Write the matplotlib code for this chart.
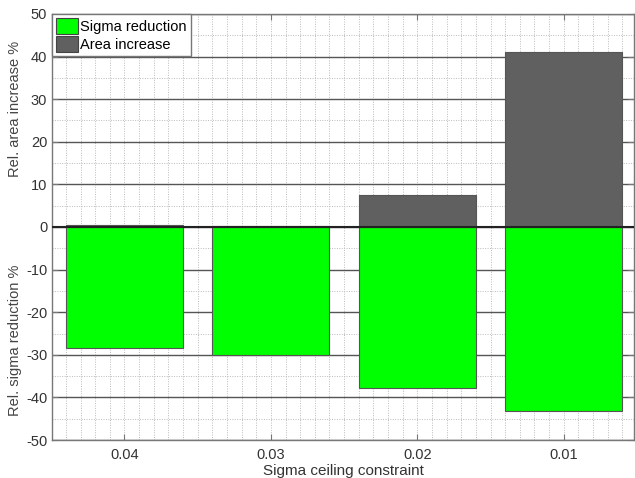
import matplotlib
matplotlib.use("Agg")
import matplotlib.pyplot as plt
from matplotlib.ticker import MultipleLocator
import numpy as np

categories = ["0.04", "0.03", "0.02", "0.01"]
sigma_reduction = [-28.3, -30.0, -37.7, -43.1]
area_increase = [0.5, 0.2, 7.6, 41.1]

plt.rcParams['font.family'] = ['Liberation Sans', 'DejaVu Sans']
plt.rcParams['axes.unicode_minus'] = False

fig = plt.figure(figsize=(6.35, 4.78), dpi=100)
ax = fig.add_axes([52 / 635, 38 / 478, (634 - 52) / 635, (440 - 14) / 478])

x = np.arange(1, len(categories) + 1)
ax.bar(x, sigma_reduction, width=0.8, color="#00ff00", edgecolor="#555555",
       linewidth=0.8, label="Sigma reduction", zorder=3)
ax.bar(x, area_increase, width=0.8, color="#606060", edgecolor="#555555",
       linewidth=0.8, label="Area increase", zorder=3)
ax.axhline(0, color="#222222", linewidth=1.5, zorder=4)

ax.set_xlim(0.505, 4.48)
ax.set_ylim(-50, 50)
ax.set_xticks(x)
ax.set_xticklabels(categories)
ax.yaxis.set_major_locator(MultipleLocator(10))
ax.yaxis.set_minor_locator(MultipleLocator(5))
ax.xaxis.set_minor_locator(MultipleLocator(0.1))

ax.grid(True, which="major", axis="y", color="#555555", linewidth=1.0, zorder=1)
ax.grid(True, which="minor", axis="y", color="#bbbbbb", linewidth=0.7,
        linestyle=(0, (1, 1.5)), zorder=1)
ax.grid(True, which="both", axis="x", color="#bbbbbb", linewidth=0.7,
        linestyle=(0, (1, 1.5)), zorder=1)
ax.set_axisbelow(True)

for s in ax.spines.values():
    s.set_color("#777777")
    s.set_linewidth(1.0)

ax.tick_params(axis="both", which="major", direction="in", length=4,
               colors="#777777", labelcolor="#333333", labelsize=10.5,
               top=True, right=True)
ax.tick_params(axis="both", which="minor", length=0)
ax.tick_params(axis="x", pad=6)

ax.set_xlabel("Sigma ceiling constraint", fontsize=11, color="#333333", labelpad=1)

fig.text(15 / 635, 1 - 109 / 478, "Rel. area increase %", rotation=90,
         ha="center", va="center", fontsize=10.5, color="#444444")
fig.text(15 / 635, 1 - 340 / 478, "Rel. sigma reduction %", rotation=90,
         ha="center", va="center", fontsize=10.5, color="#444444")

leg = ax.legend(loc="upper left", bbox_to_anchor=(0, 1), borderaxespad=0.0,
                fancybox=False, framealpha=1, edgecolor="#777777",
                fontsize=10.5, handlelength=1.5, handleheight=1.3,
                handletextpad=0.15, borderpad=0.3, labelspacing=0.1)
leg.get_frame().set_linewidth(1.0)
for h in leg.legend_handles:
    h.set_edgecolor("#444444")

fig.savefig("out.png", dpi=100)
